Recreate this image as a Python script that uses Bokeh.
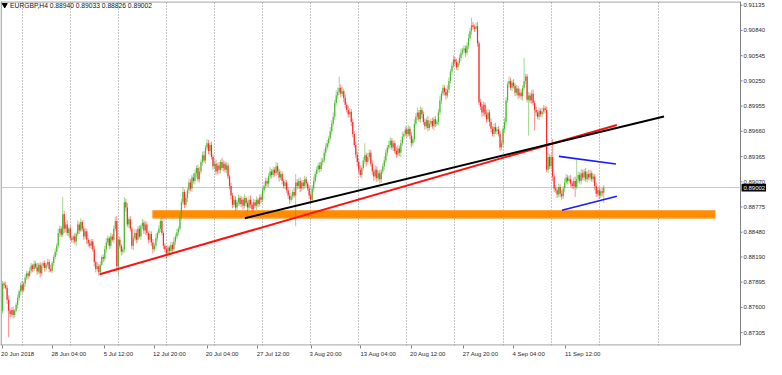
import numpy as np
from bokeh.plotting import figure
from bokeh.models import FixedTicker, Range1d, Label, ColumnDataSource
from bokeh.core.properties import value
from bokeh.embed import file_html
from bokeh.resources import INLINE

# ---------------- data (EURGBP H4) ----------------
first_open = 0.8756
closes = [
    0.8788, 0.8786, 0.8783, 0.8769, 0.8756, 0.8752, 0.8757, 0.8751, 0.8756, 0.8763, 0.8771, 0.8779, 0.8786, 0.8780, 0.8788, 0.8795, 0.8800, 0.8797, 0.8803, 0.8809,
    0.8805, 0.8811, 0.8807, 0.8802, 0.8810, 0.8800, 0.8808, 0.8812, 0.8806, 0.8810, 0.8813, 0.8805, 0.8803, 0.8812, 0.8819, 0.8825, 0.8832, 0.8847, 0.8852, 0.8845,
    0.8869, 0.8852, 0.8857, 0.8847, 0.8852, 0.8841, 0.8839, 0.8843, 0.8837, 0.8846, 0.8857, 0.8850, 0.8860, 0.8852, 0.8843, 0.8849, 0.8839, 0.8835, 0.8832, 0.8837,
    0.8828, 0.8813, 0.8805, 0.8808, 0.8801, 0.8810, 0.8819, 0.8817, 0.8828, 0.8836, 0.8841, 0.8832, 0.8843, 0.8839, 0.8852, 0.8861, 0.8808, 0.8839, 0.8832, 0.8825,
    0.8828, 0.8883, 0.8877, 0.8857, 0.8863, 0.8852, 0.8832, 0.8841, 0.8847, 0.8839, 0.8852, 0.8843, 0.8855, 0.8859, 0.8850, 0.8857, 0.8847, 0.8839, 0.8846, 0.8836,
    0.8828, 0.8832, 0.8841, 0.8847, 0.8852, 0.8861, 0.8847, 0.8832, 0.8828, 0.8823, 0.8830, 0.8826, 0.8833, 0.8828, 0.8837, 0.8843, 0.8848, 0.8852, 0.8866, 0.8883,
    0.8895, 0.8880, 0.8888, 0.8897, 0.8906, 0.8899, 0.8912, 0.8908, 0.8917, 0.8923, 0.8910, 0.8919, 0.8930, 0.8938, 0.8932, 0.8947, 0.8952, 0.8943, 0.8950, 0.8936,
    0.8925, 0.8928, 0.8919, 0.8926, 0.8921, 0.8930, 0.8923, 0.8928, 0.8921, 0.8926, 0.8913, 0.8902, 0.8891, 0.8880, 0.8886, 0.8877, 0.8883, 0.8888, 0.8881, 0.8886,
    0.8879, 0.8888, 0.8882, 0.8877, 0.8886, 0.8880, 0.8875, 0.8883, 0.8879, 0.8886, 0.8881, 0.8889, 0.8886, 0.8897, 0.8902, 0.8908, 0.8905, 0.8913, 0.8919, 0.8915,
    0.8921, 0.8917, 0.8925, 0.8919, 0.8912, 0.8916, 0.8908, 0.8902, 0.8906, 0.8897, 0.8891, 0.8886, 0.8890, 0.8895, 0.8891, 0.8906, 0.8902, 0.8908, 0.8899, 0.8906,
    0.8902, 0.8910, 0.8905, 0.8899, 0.8891, 0.8886, 0.8899, 0.8908, 0.8916, 0.8921, 0.8926, 0.8922, 0.8930, 0.8932, 0.8941, 0.8947, 0.8952, 0.8958, 0.8966, 0.8975,
    0.8983, 0.8999, 0.9008, 0.9012, 0.9017, 0.9010, 0.9013, 0.9005, 0.8997, 0.8991, 0.8986, 0.8989, 0.8977, 0.8963, 0.8950, 0.8939, 0.8930, 0.8921, 0.8915, 0.8923,
    0.8932, 0.8938, 0.8930, 0.8936, 0.8941, 0.8928, 0.8919, 0.8913, 0.8921, 0.8911, 0.8917, 0.8910, 0.8919, 0.8925, 0.8932, 0.8941, 0.8947, 0.8950, 0.8955, 0.8947,
    0.8952, 0.8943, 0.8939, 0.8946, 0.8941, 0.8952, 0.8960, 0.8963, 0.8968, 0.8963, 0.8969, 0.8961, 0.8952, 0.8957, 0.8975, 0.8983, 0.8988, 0.8980, 0.8991, 0.8986,
    0.8977, 0.8972, 0.8979, 0.8970, 0.8975, 0.8978, 0.8972, 0.8980, 0.8975, 0.8977, 0.8988, 0.9002, 0.9010, 0.9017, 0.9012, 0.9008, 0.9015, 0.9025, 0.9036, 0.9043,
    0.9050, 0.9047, 0.9041, 0.9046, 0.9052, 0.9058, 0.9061, 0.9063, 0.9058, 0.9066, 0.9075, 0.9083, 0.9090, 0.9088, 0.9086, 0.9089, 0.9069, 0.9000, 0.8995, 0.8988,
    0.8997, 0.8986, 0.8980, 0.8988, 0.8977, 0.8969, 0.8963, 0.8971, 0.8966, 0.8968, 0.8963, 0.8947, 0.8952, 0.8969, 0.8977, 0.9002, 0.9021, 0.9025, 0.9017, 0.9023,
    0.9019, 0.9011, 0.9016, 0.9008, 0.9011, 0.9007, 0.9017, 0.9025, 0.9030, 0.9003, 0.9008, 0.9002, 0.9010, 0.8999, 0.8991, 0.8988, 0.8983, 0.8990, 0.8986, 0.8989,
    0.8993, 0.8991, 0.8921, 0.8936, 0.8925, 0.8936, 0.8913, 0.8899, 0.8897, 0.8892, 0.8901, 0.8893, 0.8890, 0.8899, 0.8906, 0.8912, 0.8908, 0.8910, 0.8905, 0.8902,
    0.8908, 0.8901, 0.8910, 0.8915, 0.8908, 0.8917, 0.8912, 0.8919, 0.8910, 0.8916, 0.8912, 0.8917, 0.8910, 0.8913, 0.8902, 0.8893, 0.8897, 0.8891, 0.8896, 0.88940,
    0.89002,
]
# wick lengths above / below the candle body, in pips (0.0001)
upper_wick_pips = [
    3, 2, 4, 3, 5, 2, 3, 4, 2, 3, 4, 2, 3, 5, 2, 4, 3, 2, 4, 3,
    2, 4, 3, 5, 2, 3, 4, 2, 3, 2, 4, 3, 5, 2, 3, 4, 3, 5, 4, 3,
    20, 4, 3, 5, 2, 4, 3, 2, 4, 3, 5, 3, 4, 2, 3, 4, 3, 2, 4, 3,
    3, 4, 2, 5, 3, 4, 2, 3, 4, 5, 3, 2, 4, 3, 4, 5, 6, 3, 4, 2,
    3, 6, 4, 5, 3, 4, 2, 3, 5, 4, 3, 4, 2, 5, 3, 4, 3, 2, 4, 3,
    4, 3, 5, 2, 4, 3, 4, 2, 3, 4, 3, 2, 4, 3, 5, 3, 4, 3, 5, 4,
    6, 3, 4, 3, 5, 4, 3, 5, 4, 3, 4, 5, 3, 4, 5, 3, 5, 4, 3, 4,
    3, 4, 5, 3, 4, 3, 5, 4, 3, 4, 3, 2, 4, 3, 5, 4, 3, 4, 3, 4,
    3, 4, 2, 3, 4, 5, 3, 4, 3, 4, 2, 3, 4, 3, 5, 4, 3, 4, 5, 3,
    4, 3, 5, 4, 3, 4, 3, 2, 4, 3, 4, 3, 4, 3, 5, 10, 4, 3, 4, 3,
    3, 4, 3, 2, 4, 3, 4, 5, 3, 4, 3, 4, 5, 3, 4, 5, 4, 3, 5, 4,
    5, 4, 6, 5, 13, 4, 5, 3, 4, 3, 5, 4, 3, 4, 3, 4, 3, 4, 5, 3,
    4, 14, 3, 5, 4, 3, 4, 3, 5, 4, 3, 4, 3, 4, 5, 4, 3, 5, 4, 3,
    4, 3, 5, 4, 3, 4, 5, 3, 4, 3, 4, 3, 4, 3, 5, 4, 6, 3, 4, 3,
    3, 4, 3, 5, 4, 3, 4, 3, 4, 3, 4, 5, 3, 4, 3, 4, 5, 4, 3, 4,
    5, 3, 4, 3, 4, 5, 3, 4, 3, 4, 5, 4, 9, 4, 3, 4, 5, 3, 4, 3,
    4, 3, 5, 4, 3, 4, 3, 4, 5, 3, 4, 3, 4, 3, 5, 4, 3, 5, 4, 3,
    4, 3, 4, 3, 5, 4, 3, 27, 4, 3, 4, 3, 4, 5, 3, 4, 3, 4, 3, 5,
    4, 3, 4, 5, 3, 4, 21, 3, 4, 3, 4, 3, 4, 3, 5, 4, 3, 4, 5, 3,
    4, 5, 23, 4, 3, 5, 4, 3, 4, 3, 5, 4, 3, 4, 3, 4, 3, 4, 3, 4,
    3.1,
]
lower_wick_pips = [
    3, 4, 2, 5, 31, 4, 3, 4, 3, 2, 4, 3, 5, 3, 2, 4, 3, 4, 2, 3,
    4, 3, 2, 4, 3, 5, 3, 2, 4, 3, 3, 4, 2, 3, 4, 3, 4, 3, 5, 3,
    3, 5, 4, 3, 4, 2, 3, 4, 3, 5, 3, 4, 2, 3, 4, 3, 5, 4, 3, 4,
    3, 5, 4, 3, 4, 3, 2, 4, 3, 4, 3, 4, 3, 2, 4, 3, 6, 11, 3, 4,
    3, 4, 5, 3, 4, 3, 4, 5, 3, 4, 3, 2, 4, 3, 4, 5, 3, 4, 3, 4,
    5, 3, 4, 3, 2, 4, 3, 4, 3, 6, 4, 3, 4, 3, 2, 4, 3, 4, 3, 4,
    3, 4, 3, 5, 4, 3, 4, 3, 4, 5, 3, 4, 3, 4, 3, 4, 3, 4, 5, 3,
    4, 3, 4, 3, 5, 4, 3, 4, 3, 4, 3, 4, 5, 4, 3, 4, 3, 4, 3, 4,
    4, 3, 4, 5, 3, 4, 3, 4, 3, 5, 4, 3, 4, 3, 4, 3, 4, 5, 3, 4,
    3, 4, 3, 4, 5, 3, 4, 3, 4, 3, 4, 5, 3, 4, 3, 36, 4, 3, 4, 3,
    4, 3, 4, 3, 4, 5, 3, 4, 3, 4, 3, 4, 3, 4, 3, 4, 3, 4, 3, 4,
    3, 4, 3, 4, 3, 4, 3, 5, 4, 3, 4, 3, 5, 4, 3, 4, 5, 4, 3, 4,
    3, 4, 5, 3, 4, 3, 4, 5, 3, 4, 3, 5, 4, 3, 4, 3, 4, 3, 4, 3,
    4, 3, 4, 3, 4, 5, 3, 4, 3, 4, 3, 4, 5, 3, 4, 3, 4, 3, 4, 5,
    3, 4, 3, 4, 3, 4, 3, 5, 4, 3, 4, 3, 4, 3, 4, 5, 3, 4, 3, 4,
    3, 4, 3, 4, 3, 4, 3, 4, 5, 3, 4, 3, 4, 3, 4, 3, 4, 3, 4, 5,
    4, 3, 4, 3, 5, 4, 3, 4, 3, 4, 3, 4, 3, 4, 5, 4, 3, 4, 3, 4,
    3, 4, 3, 4, 3, 4, 5, 3, 4, 3, 42, 3, 4, 3, 24, 4, 3, 4, 3, 4,
    3, 4, 3, 4, 3, 4, 5, 4, 3, 4, 3, 4, 4, 3, 4, 3, 4, 3, 4, 3,
    4, 12, 3, 4, 3, 4, 3, 4, 3, 4, 3, 4, 3, 4, 5, 4, 3, 4, 3, 4,
    11.4,
]

price_ticks = [0.91135, 0.90840, 0.90545, 0.90250, 0.89955, 0.89660, 0.89365,
               0.89070, 0.88775, 0.88480, 0.88190, 0.87895, 0.87600, 0.87305]
time_tick_bars = [10, 44, 77, 111, 146, 180, 215, 250, 283, 318, 350, 386]
time_mark_bars = [0, 33.2, 67.9, 101.2, 136.4, 169.7, 205.6, 238.3, 272.3, 306.9, 340.2, 374.8]
time_tick_labels = ["20 Jun 2018", "28 Jun 04:00", "5 Jul 12:00", "12 Jul 20:00",
                    "20 Jul 04:00", "27 Jul 12:00", "3 Aug 20:00", "13 Aug 04:00",
                    "20 Aug 12:00", "27 Aug 20:00", "4 Sep 04:00", "11 Sep 12:00"]
grid_bars = [13, 45, 77, 109, 141, 173, 205, 237, 269, 301, 333, 365, 397, 436.5]

title_text = "EURGBP,H4  0.88940 0.89033 0.88826 0.89002"
last_price = 0.89002

# drawn objects (bar index, price)
red_trend = ([64.6, 408.7], [0.87988, 0.89734])
black_trend = ([161.2, 440.1], [0.88644, 0.89834])
orange_zone = (99.9, 474.1, 0.88644, 0.88733)
blue_upper = ([370.2, 408.1], [0.89367, 0.89278])
blue_lower = ([372.2, 408.7], [0.88736, 0.88900])

# chart window: bars area ends at the price scale
X_START, X_SCALE_EDGE, X_END = -1.4, 491.0, 508.3
Y_START, Y_END = 0.87154, 0.91179

# ---------------- build ----------------
n = len(closes)
c = np.array(closes)
o = np.array([first_open] + closes[:-1])
uw = np.array(upper_wick_pips[:n]) * 1e-4
lw = np.array(lower_wick_pips[:n]) * 1e-4
top = np.maximum(o, c)
bot = np.minimum(o, c)
hi = top + uw
lo = bot - lw
x = np.arange(n)
bull = c >= o
col = np.where(bull, "#3fb31f", "#ff1a1a")

src = ColumnDataSource(dict(x=x, o=o, c=c, hi=hi, lo=lo, top=top, bot=bot, col=col))

p = figure(width=766, height=359, output_backend="svg", toolbar_location=None,
           x_range=Range1d(X_START, X_END), y_range=Range1d(Y_START, Y_END),
           y_axis_location=None, x_axis_location="below",
           min_border_left=0, min_border_top=1, min_border_bottom=2, min_border_right=0)
p.background_fill_color = "white"
p.border_fill_color = "white"
p.outline_line_color = None

# grids
p.ygrid.visible = False
p.xgrid.ticker = FixedTicker(ticks=grid_bars)
p.xgrid.grid_line_color = "#8c8c8c"
p.xgrid.grid_line_dash = "1 2"
p.xgrid.grid_line_width = 1

# time axis
ax = p.xaxis[0]
ax.ticker = FixedTicker(ticks=time_tick_bars, minor_ticks=time_mark_bars)
ax.major_label_overrides = {b: t for b, t in zip(time_tick_bars, time_tick_labels)}
ax.major_label_text_font = "Liberation Sans"
ax.major_label_text_font_size = "6px"
ax.major_label_text_color = "#2a2a2a"
ax.axis_line_color = None
ax.major_tick_line_color = None
ax.major_tick_out = 0
ax.major_tick_in = 0
ax.minor_tick_line_color = "#808080"
ax.minor_tick_in = 0
ax.minor_tick_out = 3
ax.major_label_standoff = 2

# chart border (left, top, bottom) and price-scale line
frame_col = "#808080"
p.segment(x0=[X_START + 0.4, X_START, X_START, X_SCALE_EDGE],
          y0=[Y_START, Y_END - 0.00005, Y_START + 0.00005, Y_START],
          x1=[X_START + 0.4, X_SCALE_EDGE, X_SCALE_EDGE, X_SCALE_EDGE],
          y1=[Y_END, Y_END - 0.00005, Y_START + 0.00005, Y_END],
          line_color=frame_col, line_width=1)

# support zone (behind candles)
p.quad(left=[orange_zone[0]], right=[orange_zone[1]], bottom=[orange_zone[2]],
       top=[orange_zone[3]], fill_color="#ff8c00", line_color="#ffa640", line_width=1)

# bid line
p.segment(x0=[X_START], y0=[last_price], x1=[X_SCALE_EDGE], y1=[last_price],
          line_color="#c8c8c8", line_width=1)

# candles
p.segment(x0="x", y0="hi", x1="x", y1="lo", source=src, line_color="col",
          line_width=1, line_alpha=0.5)
p.vbar(x="x", width=0.8, top="top", bottom="bot", source=src, fill_color="col",
       line_color=None, fill_alpha=0.9)

# trend lines
p.line(red_trend[0], red_trend[1], line_color="#ff1010", line_width=2)
p.line(black_trend[0], black_trend[1], line_color="black", line_width=2)
p.line(blue_upper[0], blue_upper[1], line_color="#1a1aff", line_width=1.6)
p.line(blue_lower[0], blue_lower[1], line_color="#1a1aff", line_width=1.6)

# price scale: ticks and labels
p.segment(x0=[X_SCALE_EDGE] * len(price_ticks), y0=price_ticks,
          x1=[X_SCALE_EDGE + 1.3] * len(price_ticks), y1=price_ticks,
          line_color=frame_col, line_width=1)
p.text(x=[X_SCALE_EDGE + 2.0] * len(price_ticks), y=price_ticks,
       text=[f"{t:.5f}" for t in price_ticks], text_font=value("Liberation Sans"),
       text_font_size="6px", text_baseline="middle", text_align="left",
       text_color="#2a2a2a")

# current price tag
p.quad(left=[X_SCALE_EDGE + 0.7], right=[X_END], bottom=[last_price - 0.00045],
       top=[last_price + 0.00045], fill_color="black", line_color=None)
p.text(x=[X_SCALE_EDGE + 2.0], y=[last_price], text=[f"{last_price:.5f}"],
       text_font=value("Liberation Sans"), text_font_size="6px",
       text_baseline="middle", text_align="left", text_color="white")

# header
p.scatter([1.4], [0.91138], marker="inverted_triangle", size=5, color="black")
p.add_layout(Label(x=5.0, y=0.91138, text=title_text, text_font="Liberation Sans",
                   text_font_size="6.7px", text_baseline="middle", text_color="#111111"))

open("out.html", "w").write(file_html(p, INLINE))
